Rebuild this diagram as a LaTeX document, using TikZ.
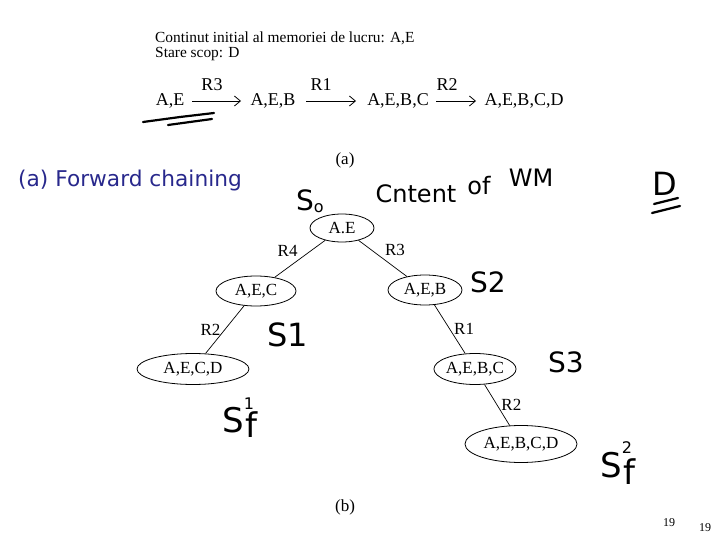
\documentclass[tikz,border=0pt]{standalone}
\usepackage{fontspec}
\setmainfont{Liberation Serif}
\newfontfamily\uifont{DejaVu Sans}
\newfontfamily\handfont{DejaVu Sans}
\usetikzlibrary{arrows.meta,shapes.geometric}
\definecolor{titleblue}{RGB}{40,40,140}
\begin{document}
\begin{tikzpicture}[x=1pt,y=-1pt,
  state/.style={ellipse,draw,line width=0.8pt,inner sep=0pt,font=\fontsize{17}{19}\selectfont},
  lbl/.style={font=\fontsize{17}{19}\selectfont,inner sep=1pt},
  chain/.style={font=\fontsize{18}{20}\selectfont,inner sep=2pt},
  chainarrow/.style={-{Straight Barb[length=6pt,width=10pt]},line width=0.8pt},
  hand/.style={font=\handfont\fontsize{28}{30}\selectfont,inner sep=0pt},
  handsm/.style={font=\handfont\fontsize{24}{26}\selectfont,inner sep=0pt},
  stroke/.style={line width=2.2pt,line cap=round}]
\useasboundingbox (0,0) rectangle (720,540);
% header text
\node[anchor=west,font=\fontsize{15.4}{17}\selectfont,inner sep=0pt] (t1) at (155,38) {Continut initial al memoriei de lucru: A,E};
\node[anchor=west,font=\fontsize{15.4}{17}\selectfont,inner sep=0pt] (t2) at (155,54) {Stare scop: D};
% chain
\node[chain] (c1) at (170,101) {A,E};
\node[chain] (c2) at (273,101) {A,E,B};
\node[chain] (c3) at (398,101) {A,E,B,C};
\node[chain] (c4) at (524,101) {A,E,B,C,D};
\draw[chainarrow] (192,101) coordinate (a1s) -- (241,101) coordinate (a1e);
\draw[chainarrow] (306,101) coordinate (a2s) -- (356,101) coordinate (a2e);
\draw[chainarrow] (436,101) coordinate (a3s) -- (476,101) coordinate (a3e);
\node[chain] (l1) at (212,85) {R3};
\node[chain] (l2) at (321,85) {R1};
\node[chain] (l3) at (447,85) {R2};
% caption labels
\node[font=\fontsize{17}{19}\selectfont] (capa) at (345,160) {(a)};
\node[font=\fontsize{17}{19}\selectfont] (capb) at (345,507) {(b)};
\node[anchor=west,font=\uifont\fontsize{21.7}{23}\selectfont,text=titleblue,inner sep=0pt] (fc) at (18,181) {(a) Forward chaining};
% tree
\node[state,minimum width=64pt,minimum height=28pt] (r) at (342,228) {A.E};
\node[state,minimum width=80pt,minimum height=30pt] (n1) at (256,291) {A,E,C};
\node[state,minimum width=74pt,minimum height=30pt] (n2) at (425,290) {A,E,B};
\node[state,minimum width=112pt,minimum height=31pt] (n3) at (193,369) {A,E,C,D};
\node[state,minimum width=82pt,minimum height=31pt] (n4) at (475,369) {A,E,B,C};
\node[state,minimum width=112pt,minimum height=37pt] (n5) at (521,444) {A,E,B,C,D};
\draw[line width=0.7pt] (r) -- node[lbl,above left=1pt] {R4} (n1);
\draw[line width=0.7pt] (r) -- node[lbl,above right=1pt] {R3} (n2);
\draw[line width=0.7pt] (n1) -- node[lbl,left=3pt] {R2} (n3);
\draw[line width=0.7pt] (n2) -- node[lbl,right=3pt] {R1} (n4);
\draw[line width=0.7pt] (n4) -- node[lbl,right=3pt] {R2} (n5);
% page numbers
\node[font=\fontsize{12}{13}\selectfont] (p1) at (669,523) {19};
\node[font=\fontsize{12}{13}\selectfont] (p2) at (705,528) {19};
% handwritten annotations
\draw[stroke] (143,122) -- (180,117) -- (214,113);
\draw[stroke] (168,125) -- (212,119);
\node[hand] (h0) at (310,201) {S\raisebox{-0.1ex}{\fontsize{16}{16}\selectfont o}};
\node[handsm] (hc1) at (416,194) {Cntent};
\node[handsm] (hc2) at (479,186) {of};
\node[handsm] (hc3) at (531,178) {WM};
\node[hand,font=\handfont\fontsize{32}{34}\selectfont] (hd) at (665,184) {D};
\draw[stroke] (654,204) -- (678,198);
\draw[stroke] (652,213) -- (680,206);
\node[hand] (hs2) at (488,282) {S2};
\node[hand,font=\handfont\fontsize{32}{34}\selectfont] (hs1) at (288,335) {S1};
\node[hand] (hs3) at (566,362) {S3};
\node[hand,font=\handfont\fontsize{34}{36}\selectfont] (hsf1) at (240,418) {S\raisebox{1.2ex}{\fontsize{16}{16}\selectfont 1}\kern-0.25em\raisebox{-0.3ex}{f}};
\node[hand,font=\handfont\fontsize{34}{36}\selectfont] (hsf2) at (618,463) {S\raisebox{1.3ex}{\fontsize{16}{16}\selectfont 2}\kern-0.25em\raisebox{-0.4ex}{f}};
\end{tikzpicture}
\end{document}
